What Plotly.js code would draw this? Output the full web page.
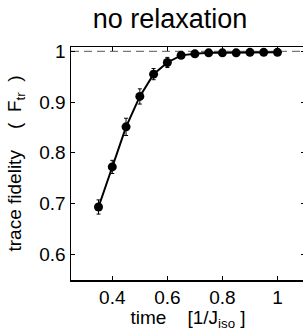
<!DOCTYPE html>
<html>
<head>
<meta charset="utf-8">
<script src="https://cdn.plot.ly/plotly-3.0.1.min.js"></script>
<style>
html, body { margin: 0; padding: 0; overflow: hidden; background: #fff; }
#chart { width: 305px; height: 331px; }
</style>
</head>
<body>
<div id="chart"></div>
<script>
// Data
var timeValues = [0.35, 0.40, 0.45, 0.50, 0.55, 0.60, 0.65, 0.70, 0.75, 0.80, 0.85, 0.90, 0.95, 1.00];
var fidelityValues = [0.693, 0.772, 0.851, 0.911, 0.955, 0.978, 0.992, 0.995, 0.997, 0.997, 0.997, 0.998, 0.998, 0.998];
var fidelityErrors = [0.014, 0.013, 0.017, 0.015, 0.011, 0.010, 0.004, 0.003, 0.002, 0.002, 0.002, 0.002, 0.002, 0.002];
var referenceLevel = [1, 1];
var referenceX = [0.25, 1.1];
var xTickVals = [0.4, 0.6, 0.8, 1];
var xTickText = ['0.4', '0.6', '0.8', '1'];
var yTickVals = [0.6, 0.7, 0.8, 0.9, 1];
var yTickText = ['0.6', '0.7', '0.8', '0.9', '1'];

var FONT = 'Liberation Sans, Arial, Helvetica, sans-serif';
var NB = '\u00a0';

var traces = [
  {
    x: referenceX,
    y: referenceLevel,
    mode: 'lines',
    line: { color: '#555555', width: 1, dash: '8px,5px' },
    hoverinfo: 'skip',
    showlegend: false
  },
  {
    x: timeValues,
    y: fidelityValues,
    mode: 'lines+markers',
    line: { color: '#000000', width: 2 },
    marker: { color: '#000000', size: 9 },
    error_y: { type: 'data', array: fidelityErrors, visible: true, color: '#000000', thickness: 1, width: 2 },
    showlegend: false
  }
];

var axisCommon = {
  showgrid: false,
  zeroline: false,
  showline: true,
  linecolor: '#000000',
  linewidth: 1.5,
  mirror: 'ticks',
  ticks: 'inside',
  ticklen: 4,
  tickwidth: 1,
  tickcolor: '#000000',
  tickfont: { family: FONT, size: 19, color: '#000000' }
};

var layout = {
  width: 305,
  height: 331,
  margin: { l: 71, r: 0, t: 47, b: 51 },
  paper_bgcolor: '#ffffff',
  plot_bgcolor: '#ffffff',
  title: {
    text: 'no relaxation',
    font: { family: FONT, size: 27, color: '#000000' },
    xref: 'container', yref: 'container',
    x: 170 / 305, xanchor: 'center',
    y: 1 - 19 / 331, yanchor: 'middle'
  },
  xaxis: Object.assign({}, axisCommon, {
    range: [0.25, 1.1],
    tickvals: xTickVals,
    ticktext: xTickText,
    title: {
      text: 'time' + NB + NB + NB + NB + '[1/J<sub>iso</sub>' + NB + ']',
      font: { family: FONT, size: 19, color: '#000000' },
      standoff: 1
    }
  }),
  yaxis: Object.assign({}, axisCommon, {
    range: [0.549, 1.0085],
    tickvals: yTickVals,
    ticktext: yTickText,
    title: {
      text: 'trace fidelity' + NB + NB + NB + NB + '(' + NB + NB + 'F<sub>tr</sub>' + NB + NB + ')',
      font: { family: FONT, size: 19, color: '#000000' },
      standoff: 12
    }
  })
};

Plotly.newPlot('chart', traces, layout, { displayModeBar: false, staticPlot: true });
</script>
</body>
</html>
